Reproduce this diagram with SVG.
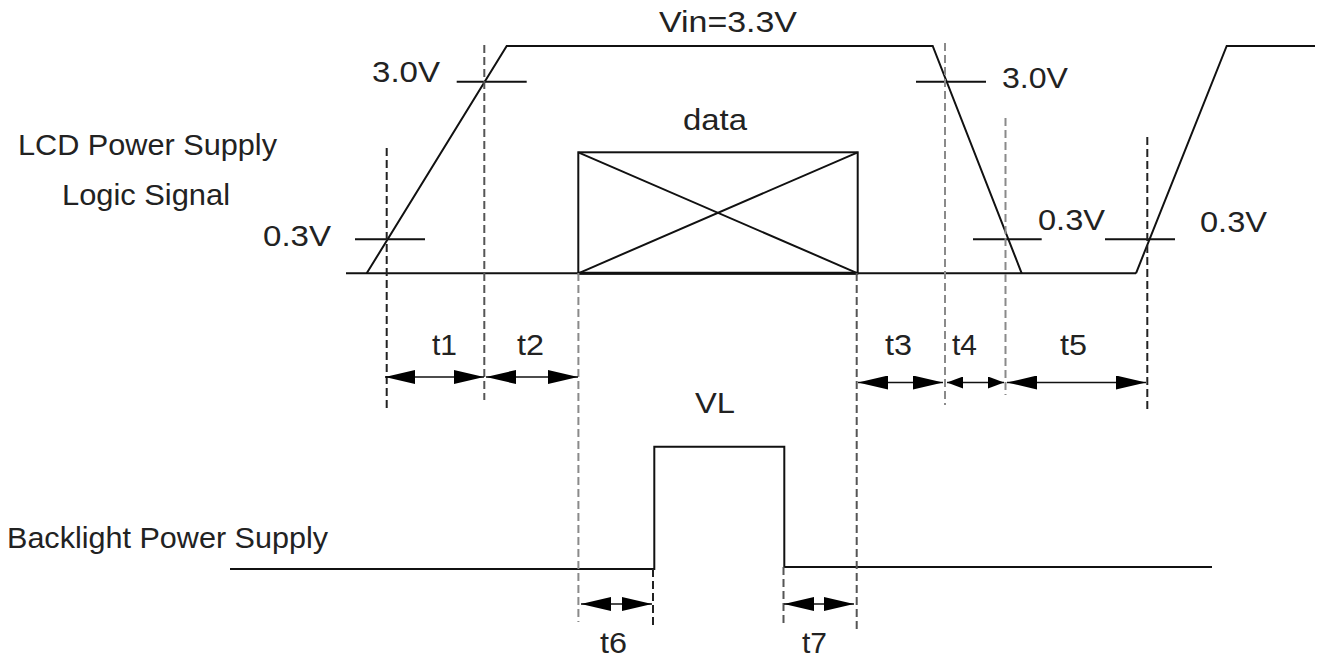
<svg xmlns="http://www.w3.org/2000/svg" width="1323" height="664" viewBox="0 0 1323 664">
<style>
text{font-family:"Liberation Sans",Arial,sans-serif;font-size:29px;fill:#222}
.sig{fill:none;stroke:#111;stroke-width:2}
.dash{fill:none;stroke-width:2;stroke-dasharray:8 4}
.dk{stroke:#222}
.md{stroke:#555}
.lt{stroke:#8a8a8a}
.arr{stroke:#111;stroke-width:1.5;marker-start:url(#ah);marker-end:url(#ah)}
.arrs{stroke:#111;stroke-width:1.5;marker-start:url(#ahs);marker-end:url(#ahs)}
</style>
<defs>
<marker id="ah" viewBox="0 0 30 14" refX="30" refY="7" markerWidth="30" markerHeight="14" markerUnits="userSpaceOnUse" orient="auto-start-reverse"><path d="M0,0 L30,7 L0,14 Z" fill="#000"/></marker>
<marker id="ahs" viewBox="0 0 16 12" refX="16" refY="6" markerWidth="16" markerHeight="12" markerUnits="userSpaceOnUse" orient="auto-start-reverse"><path d="M0,0 L16,6 L0,12 Z" fill="#000"/></marker>
</defs>
<rect width="1323" height="664" fill="#fff"/>

<g id="lcd-signal">
<line class="sig" x1="346" y1="273.3" x2="1136" y2="273.3"/>
<polyline class="sig" points="366.7,273.3 506.7,46 932.7,46 1021.7,273.3"/>
<polyline class="sig" points="1136,273.3 1226.7,46 1315,46"/>
<line x1="578" y1="273.3" x2="858" y2="273.3" stroke="#111" stroke-width="3"/>
</g>

<g id="data-box">
<rect class="sig" x="578.3" y="152.3" width="279.4" height="121"/>
<line class="sig" x1="578.3" y1="152.3" x2="857.7" y2="273.3"/>
<line class="sig" x1="578.3" y1="273.3" x2="857.7" y2="152.3"/>
<text x="683" y="130" textLength="64" lengthAdjust="spacingAndGlyphs">data</text>
</g>

<g id="thresholds">
<line class="sig" x1="355" y1="239.3" x2="425" y2="239.3"/>
<line class="sig" x1="456.7" y1="81.7" x2="526.7" y2="81.7"/>
<line class="sig" x1="916" y1="81.7" x2="986" y2="81.7"/>
<line class="sig" x1="973" y1="239.3" x2="1041.7" y2="239.3"/>
<line class="sig" x1="1105" y1="239.3" x2="1175" y2="239.3"/>
</g>

<g id="backlight-signal">
<polyline class="sig" points="230,569 654.3,569 654.3,446.7 784.3,446.7 784.3,567 1212,567"/>
</g>

<g id="guides">
<line class="dash dk" x1="386.7" y1="148" x2="386.7" y2="410"/>
<line class="dash md" x1="484.3" y1="45" x2="484.3" y2="400"/>
<line class="dash lt" x1="578.4" y1="273" x2="578.4" y2="622"/>
<line class="dash md" x1="856.7" y1="273" x2="856.7" y2="629"/>
<line class="dash lt" x1="945" y1="43" x2="945" y2="405"/>
<line class="dash lt" x1="1005.5" y1="118" x2="1005.5" y2="395"/>
<line class="dash dk" x1="1147.3" y1="137" x2="1147.3" y2="410"/>
<line class="dash dk" x1="653" y1="569" x2="653" y2="629"/>
<line class="dash md" x1="783.5" y1="567" x2="783.5" y2="626"/>
</g>

<g id="connectors">
<line class="arr" x1="385" y1="377" x2="484" y2="377"/>
<line class="arr" x1="486" y1="377" x2="578" y2="377"/>
<line class="arr" x1="858" y1="382.5" x2="943" y2="382.5"/>
<line class="arrs" x1="947" y1="382.5" x2="1004" y2="382.5"/>
<line class="arr" x1="1007" y1="382.5" x2="1146" y2="382.5"/>
<line class="arr" x1="581" y1="604" x2="652" y2="604"/>
<line class="arr" x1="784" y1="604" x2="854" y2="604"/>
</g>

<g id="labels">
<text x="659" y="32" textLength="138" lengthAdjust="spacingAndGlyphs">Vin=3.3V</text>
<text x="372" y="82" textLength="68" lengthAdjust="spacingAndGlyphs">3.0V</text>
<text x="1002" y="88" textLength="66" lengthAdjust="spacingAndGlyphs">3.0V</text>
<text x="18" y="155" textLength="259" lengthAdjust="spacingAndGlyphs">LCD Power Supply</text>
<text x="62" y="205" textLength="168" lengthAdjust="spacingAndGlyphs">Logic Signal</text>
<text x="263" y="246" textLength="68" lengthAdjust="spacingAndGlyphs">0.3V</text>
<text x="1038" y="230" textLength="67" lengthAdjust="spacingAndGlyphs">0.3V</text>
<text x="1200" y="232" textLength="67" lengthAdjust="spacingAndGlyphs">0.3V</text>
<text x="432" y="355" textLength="25" lengthAdjust="spacingAndGlyphs">t1</text>
<text x="517" y="355" textLength="27" lengthAdjust="spacingAndGlyphs">t2</text>
<text x="885" y="355" textLength="27" lengthAdjust="spacingAndGlyphs">t3</text>
<text x="952" y="355" textLength="25" lengthAdjust="spacingAndGlyphs">t4</text>
<text x="1060" y="355" textLength="27" lengthAdjust="spacingAndGlyphs">t5</text>
<text x="695" y="413" textLength="40" lengthAdjust="spacingAndGlyphs">VL</text>
<text x="7" y="548" textLength="321" lengthAdjust="spacingAndGlyphs">Backlight Power Supply</text>
<text x="600" y="653" textLength="27" lengthAdjust="spacingAndGlyphs">t6</text>
<text x="802" y="653" textLength="25" lengthAdjust="spacingAndGlyphs">t7</text>
</g>
</svg>
